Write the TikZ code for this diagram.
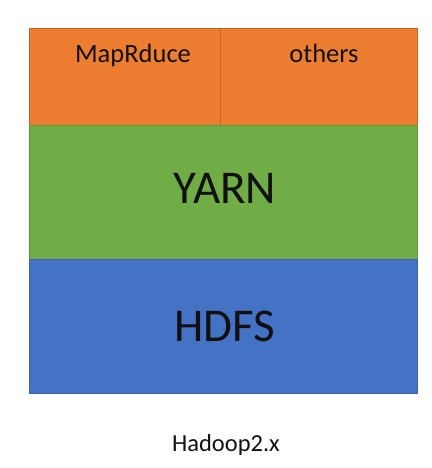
\documentclass[tikz,border=0pt]{standalone}
\usepackage{fontspec}
\setmainfont{Carlito}
\definecolor{horange}{HTML}{ED7D31}
\definecolor{hgreen}{HTML}{70AD47}
\definecolor{hblue}{HTML}{4472C4}
\definecolor{hdorange}{HTML}{C8641E}
\definecolor{hdgreen}{HTML}{5E9A3A}
\definecolor{hdblue}{HTML}{3A62AE}
\definecolor{htext}{HTML}{111111}
\begin{document}
\begin{tikzpicture}[x=1pt,y=1pt,
  cell/.style={draw, line width=0.8pt, inner sep=0pt, outer sep=0pt, anchor=south west},
  txt/.style={text=htext, inner sep=0pt, anchor=base}]
\useasboundingbox (0,0) rectangle (431,468);
\fill[white] (0,0) rectangle (431,468);
% cells
\node[cell, fill=horange, draw=hdorange, minimum width=191pt, minimum height=97pt] (mr) at (29,343) {};
\node[cell, fill=horange, draw=hdorange, minimum width=197pt, minimum height=97pt] (ot) at (220,343) {};
\node[cell, fill=hgreen, draw=hdgreen, minimum width=388pt, minimum height=134pt] (yarn) at (29,209) {};
\node[cell, fill=hblue, draw=hdblue, minimum width=388pt, minimum height=134pt] (hdfs) at (29,75) {};
% texts
\node[txt, font=\fontsize{26.5}{31}\selectfont] (mrt) at (133,405) {MapRduce};
\node[txt, font=\fontsize{26.5}{31}\selectfont] (ott) at (324,405) {others};
\node[txt, font=\fontsize{47}{56}\selectfont] (yt) at (225,264) {YARN};
\node[txt, font=\fontsize{47}{56}\selectfont] (ht) at (225,126) {HDFS};
\node[txt, font=\fontsize{24.5}{29}\selectfont] (cap) at (226,16.5) {Hadoop2.x};
\end{tikzpicture}
\end{document}
